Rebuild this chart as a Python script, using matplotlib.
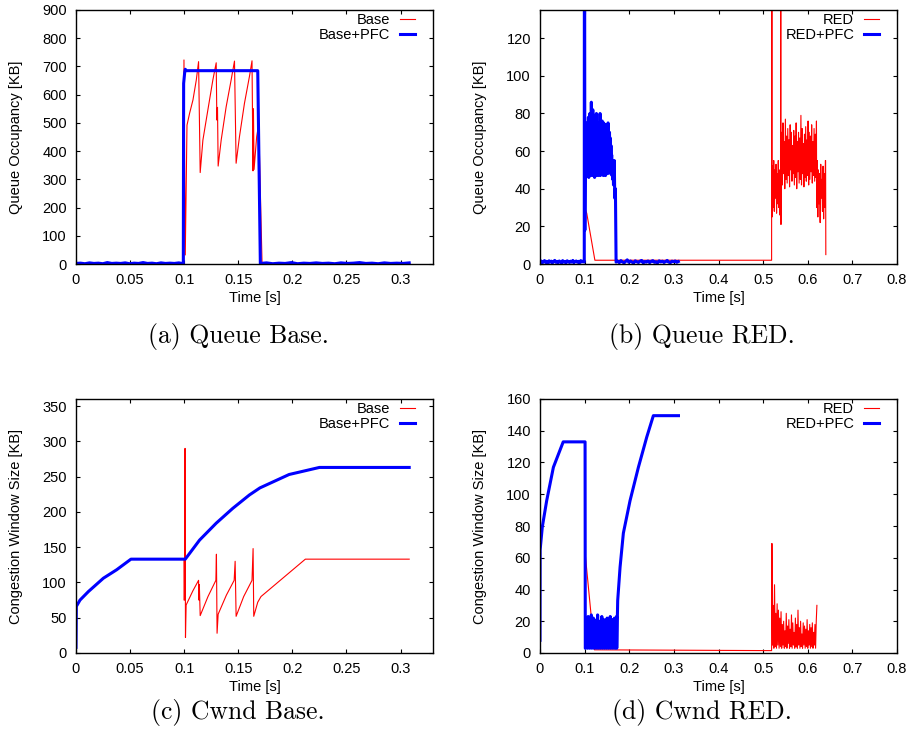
import numpy as np
import matplotlib
matplotlib.use('Agg')
import matplotlib.pyplot as plt
from matplotlib.ticker import FuncFormatter

plt.rcParams['font.family'] = ['Liberation Sans', 'DejaVu Sans']

RED = '#ff0000'
BLUE = '#0000ff'

# ---------------- (a) Queue Base ----------------
a_pfc_pre = [2, 3, 1, 4, 2, 3, 1, 5, 2, 3, 2, 4, 1, 3, 2, 5, 2, 3, 1, 4, 2, 3, 2, 4, 1]
a_pfc_mid_t = [0.0992, 0.0995, 0.1005, 0.1010, 0.1020, 0.1680, 0.1704]
a_pfc_mid_v = [2, 640, 680, 690, 685, 685, 2]
a_pfc_post = [2, 4, 1, 3, 2, 5, 1, 3, 2, 4, 2, 3, 1, 4, 2, 3, 5, 2, 3, 1, 4, 2, 3, 2, 4]
a_pfc_range = (0.0, 0.0992, 0.1704, 0.308)

a_base_t = [0.0, 0.0996, 0.0998, 0.1010, 0.1026, 0.1050, 0.1081, 0.1112, 0.1133, 0.1148,
            0.1173, 0.1219, 0.1265, 0.1296, 0.1302, 0.1308, 0.1314, 0.1342, 0.1388, 0.1434,
            0.1465, 0.1480, 0.1511, 0.1557, 0.1603, 0.1627, 0.1636, 0.1640, 0.1646, 0.1670,
            0.1689, 0.1720, 0.308]
a_base_v = [0, 0, 723, 32, 492, 534, 581, 652, 717, 324,
            439, 546, 652, 713, 510, 555, 347, 439, 557, 652,
            719, 357, 451, 569, 664, 720, 330, 550, 335, 451,
            496, 0, 0]

# ---------------- (b) Queue RED ----------------
b_pfc_pre = [1, 1.6, 0.6, 1.2, 1.8, 0.8, 1.4, 0.5, 1.7, 1.0,
             1.5, 0.6, 1.3, 1.9, 0.9, 1.4, 0.7, 1.6, 1.1, 0.5,
             1.8, 1.0, 1.4, 0.6, 1.7, 1.2, 0.8, 1.5, 1.0, 1.9,
             0.7, 1.3, 1.6, 0.9, 1.4, 0.6, 1.8, 1.1, 1.5, 1.0]
b_pfc_spike_t = [0.0992, 0.0996, 0.1005]
b_pfc_spike_v = [1, 300, 18]
b_pfc_noise = [48, 72, 47, 70, 49, 75, 47, 68, 50, 78,
               46, 73, 48, 80, 47, 76, 49, 86, 48, 77,
               47, 82, 50, 74, 48, 79, 46, 72, 49, 77,
               47, 80, 48, 70, 50, 75, 47, 73, 49, 71,
               48, 80, 47, 69, 50, 74, 48, 76, 49, 68,
               47, 75, 50, 72, 48, 70, 47, 74, 49, 69,
               51, 73, 48, 75, 50, 66, 49, 70, 51, 67,
               48, 63, 50, 58, 47, 55, 45, 52, 42, 48]
b_pfc_fall_t = [0.1665, 0.1675, 0.1690, 0.1705]
b_pfc_fall_v = [55, 35, 40, 1]
b_pfc_post = [1, 1.5, 0.7, 1.8, 1.1, 0.6, 1.4, 2.2, 0.9, 1.6,
              1.0, 0.5, 1.7, 1.2, 0.8, 1.5, 1.9, 0.6, 1.3, 1.0,
              1.6, 0.7, 1.4, 1.8, 0.9, 1.2, 0.6, 1.7, 1.1, 1.5,
              0.8, 1.3, 1.9, 1.0, 0.7, 1.5, 1.2, 1.6, 0.9, 1.3]
b_pfc_range = (0.0, 0.0990, 0.1012, 0.1655, 0.1705, 0.310)

b_red_pre_t = [0.0, 0.0990, 0.1000, 0.1047, 0.1230, 0.5190, 0.5196]
b_red_pre_v = [1, 1, 30, 27, 2, 2, 300]
b_red_noise1 = [25, 52, 30, 55, 28, 50, 35, 53, 27, 48, 32, 55, 30, 50, 26, 45]
b_red_spike_t = [0.5396, 0.5400]
b_red_spike_v = [300, 21]
b_red_noise2 = [45, 70, 42, 75, 48, 65, 40, 77, 45, 68,
                43, 72, 47, 66, 41, 74, 50, 70, 44, 63,
                48, 71, 42, 68, 46, 75, 40, 65, 49, 70,
                43, 67, 45, 79, 42, 72, 48, 64, 41, 69,
                46, 73, 44, 66, 47, 76, 42, 70, 45, 68,
                49, 74, 43, 65, 47, 72, 44, 69, 46, 76]
b_red_noise3 = [30, 55, 25, 50, 32, 48, 22, 53, 35, 45, 28, 52, 24, 48, 30, 55]
b_red_end_t = [0.6400, 0.6405]
b_red_end_v = [55, 5]
b_red_range = (0.5200, 0.5390, 0.5405, 0.6195, 0.6200, 0.6395)

# ---------------- (c) Cwnd Base ----------------
c_pfc_t = [0.0, 0.0003, 0.0037, 0.0114, 0.0253, 0.0376, 0.0508, 0.1010, 0.1142, 0.1296,
           0.1449, 0.1603, 0.1700, 0.1970, 0.2250, 0.3080]
c_pfc_v = [8, 66, 75, 87, 106, 118, 133, 133, 160, 184,
           205, 224, 234, 253, 263, 263]

c_base_t = [0.0, 0.0003, 0.0037, 0.0114, 0.0253, 0.0376, 0.0508, 0.0998, 0.0999, 0.1003,
            0.1008, 0.1012, 0.1018, 0.1080, 0.1133, 0.1136, 0.1140, 0.1148, 0.1220, 0.1293,
            0.1298, 0.1304, 0.1314, 0.1390, 0.1462, 0.1471, 0.1480, 0.1550, 0.1627, 0.1637,
            0.1643, 0.1680, 0.1710, 0.2120, 0.3080]
c_base_v = [8, 66, 75, 87, 106, 118, 133, 133, 75, 75,
            290, 22, 68, 88, 103, 75, 97, 53, 80, 103,
            140, 28, 55, 82, 103, 130, 52, 80, 103, 148,
            52, 72, 80, 133, 133]

# ---------------- (d) Cwnd RED ----------------
d_pfc_pre_t = [0.0, 0.0003, 0.0052, 0.0150, 0.0300, 0.0520, 0.1010, 0.1015]
d_pfc_pre_v = [8, 65, 79.5, 96, 117, 133, 133, 3]
d_pfc_noise = [3, 22, 5, 18, 3, 23, 4, 15, 3, 20,
               6, 24, 3, 17, 4, 22, 3, 19, 5, 14,
               3, 21, 4, 24, 3, 16, 5, 20, 3, 18,
               4, 23, 3, 15, 6, 21, 3, 19, 4, 17,
               3, 22, 5, 16, 3, 20, 4, 23, 3, 18,
               5, 21, 3, 17, 4, 22, 3, 20, 5, 23]
d_pfc_post_t = [0.1720, 0.1741, 0.1794, 0.1868, 0.2018, 0.2205, 0.2392, 0.2540, 0.3103]
d_pfc_post_v = [3, 33, 54, 75.5, 96, 117, 136, 149.5, 149.5]
d_pfc_range = (0.1020, 0.1715)

d_red_pre_t = [0.0, 0.0003, 0.0052, 0.0150, 0.0300, 0.0520, 0.1000, 0.1004, 0.1220, 0.5190]
d_red_pre_v = [8, 65, 79.5, 96, 117, 133, 133, 65, 2, 1.5]
d_red_noise = [69, 5, 30, 3, 43, 4, 25, 3, 31, 5,
               27, 3, 22, 4, 26, 3, 18, 5, 20, 3,
               14, 4, 25, 3, 17, 6, 21, 3, 15, 4,
               24, 3, 19, 5, 13, 3, 22, 4, 18, 3,
               27, 5, 16, 3, 20, 4, 12, 3, 19, 5,
               17, 3, 15, 4, 21, 3, 14, 5, 18, 3,
               16, 4, 19, 3, 13, 5, 18, 3, 20, 30]
d_red_range = (0.5197, 0.6205)

# ---------------- assemble series ----------------
def span(lo, hi, vals):
    return np.linspace(lo, hi, len(vals))

a_pfc_t = np.concatenate([span(a_pfc_range[0], a_pfc_range[1], a_pfc_pre), a_pfc_mid_t,
                          span(a_pfc_range[2], a_pfc_range[3], a_pfc_post)])
a_pfc_v = np.concatenate([a_pfc_pre, a_pfc_mid_v, a_pfc_post])

b_pfc_t = np.concatenate([span(b_pfc_range[0], b_pfc_range[1], b_pfc_pre), b_pfc_spike_t,
                          span(b_pfc_range[2], b_pfc_range[3], b_pfc_noise), b_pfc_fall_t,
                          span(b_pfc_range[4], b_pfc_range[5], b_pfc_post)])
b_pfc_v = np.concatenate([b_pfc_pre, b_pfc_spike_v, b_pfc_noise, b_pfc_fall_v, b_pfc_post])

b_red_t = np.concatenate([b_red_pre_t, span(b_red_range[0], b_red_range[1], b_red_noise1),
                          b_red_spike_t, span(b_red_range[2], b_red_range[3], b_red_noise2),
                          span(b_red_range[4], b_red_range[5], b_red_noise3), b_red_end_t])
b_red_v = np.concatenate([b_red_pre_v, b_red_noise1, b_red_spike_v, b_red_noise2,
                          b_red_noise3, b_red_end_v])

d_pfc_t = np.concatenate([d_pfc_pre_t, span(d_pfc_range[0], d_pfc_range[1], d_pfc_noise),
                          d_pfc_post_t])
d_pfc_v = np.concatenate([d_pfc_pre_v, d_pfc_noise, d_pfc_post_v])

d_red_t = np.concatenate([d_red_pre_t, span(d_red_range[0], d_red_range[1], d_red_noise)])
d_red_v = np.concatenate([d_red_pre_v, d_red_noise])

# ---------------- figure ----------------
fig = plt.figure(figsize=(9.11, 7.42), dpi=100)
W, H = 911.0, 742.0
FS = 10.5

def make_ax(left, top, right, bottom):
    return fig.add_axes([left / W, 1 - bottom / H, (right - left) / W, (bottom - top) / H])

fmt = FuncFormatter(lambda v, p: '%g' % round(v, 3))

def style(ax, xlim, xticks, ylim, yticks, ylabel, labels):
    ax.set_xlim(*xlim)
    ax.set_ylim(*ylim)
    ax.set_xticks(xticks)
    ax.set_yticks(yticks)
    ax.xaxis.set_major_formatter(fmt)
    ax.tick_params(direction='in', top=True, right=True, length=3, width=0.8,
                   labelsize=FS, pad=6.5, colors='black')
    for s in ax.spines.values():
        s.set_linewidth(1.0)
    ax.set_xlabel('Time [s]', fontsize=FS)
    ax.set_ylabel(ylabel, fontsize=FS)
    ax.yaxis.set_label_coords(-0.148, 0.5)
    ax.xaxis.set_label_coords(0.5, -0.108)
    ax.legend(labels, loc='upper right', frameon=False, markerfirst=False,
              handlelength=1.0, handletextpad=0.7, labelspacing=0.08,
              borderpad=0.0, borderaxespad=0.0, fontsize=FS,
              bbox_to_anchor=(1 - 18 / 357.0, 1 - 3 / 254.0))

ax_a = make_ax(76, 10, 433, 264)
ax_a.plot(a_base_t, a_base_v, color=RED, lw=0.8)
ax_a.plot(a_pfc_t, a_pfc_v, color=BLUE, lw=2.2)
style(ax_a, (0, 0.33), [0, 0.05, 0.1, 0.15, 0.2, 0.25, 0.3], (0, 900),
      range(0, 901, 100), 'Queue Occupancy [KB]', ['Base', 'Base+PFC'])

ax_b = make_ax(540, 10, 897, 264)
ax_b.plot(b_red_t, b_red_v, color=RED, lw=0.8)
ax_b.plot(b_pfc_t, b_pfc_v, color=BLUE, lw=2.2)
style(ax_b, (0, 0.8), [0, 0.1, 0.2, 0.3, 0.4, 0.5, 0.6, 0.7, 0.8], (0, 135),
      range(0, 121, 20), 'Queue Occupancy [KB]', ['RED', 'RED+PFC'])

ax_c = make_ax(76, 399, 433, 653)
ax_c.plot(c_base_t, c_base_v, color=RED, lw=0.8)
ax_c.plot(c_pfc_t, c_pfc_v, color=BLUE, lw=2.2)
style(ax_c, (0, 0.33), [0, 0.05, 0.1, 0.15, 0.2, 0.25, 0.3], (0, 360),
      range(0, 351, 50), 'Congestion Window Size [KB]', ['Base', 'Base+PFC'])

ax_d = make_ax(540, 399, 897, 653)
ax_d.plot(d_red_t, d_red_v, color=RED, lw=0.8)
ax_d.plot(d_pfc_t, d_pfc_v, color=BLUE, lw=2.2)
style(ax_d, (0, 0.8), [0, 0.1, 0.2, 0.3, 0.4, 0.5, 0.6, 0.7, 0.8], (0, 160),
      range(0, 161, 20), 'Congestion Window Size [KB]', ['RED', 'RED+PFC'])

captions = ['(a) Queue Base.', '(b) Queue RED.', '(c) Cwnd Base.', '(d) Cwnd RED.']
cap_pos = [(238, 337), (702, 337), (238, 712), (702, 712)]
for txt, (x, y) in zip(captions, cap_pos):
    fig.text(x / W, 1 - y / H, txt, fontfamily='cmr10', fontsize=18.5,
             ha='center', va='center')

fig.savefig('out.png', dpi=100)
